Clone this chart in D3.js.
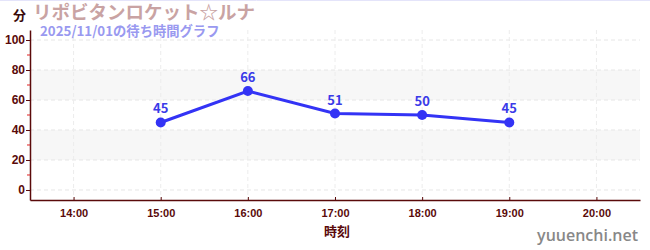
<!DOCTYPE html>
<html>
<head>
<meta charset="utf-8">
<script src="https://cdn.jsdelivr.net/npm/d3@7"></script>
<style>
  body { margin: 0; background: #fff; }
  svg { display: block; font-family: "Noto Sans CJK JP", "Noto Sans", sans-serif; }
</style>
</head>
<body>
<svg width="650" height="250"></svg>
<script>
// wait-time data for the day
var hours = [15, 16, 17, 18, 19];
var waits = [45, 66, 51, 50, 45];
var xTicks = [14, 15, 16, 17, 18, 19, 20];
var yTicks = [0, 20, 40, 60, 80, 100];
var bands = [[20, 40], [60, 80]];

var svg = d3.select('svg');
var plotLeft = 30, plotRight = 640, plotTop = 30, plotBottom = 200;

var x = d3.scaleLinear().domain([13.5, 20.5]).range([plotLeft, plotRight]);
var y = d3.scaleLinear().domain([-6.67, 106.67]).range([plotBottom, plotTop]);

var axisColor = '#5a0a0a';

// thin border on top
svg.append('line').attr('x1', 0).attr('x2', 650).attr('y1', 0.5).attr('y2', 0.5)
  .attr('stroke', '#e4e4fa');

// gray bands
svg.selectAll('rect.band')
  .data(bands)
  .enter().append('rect')
  .attr('x', plotLeft).attr('width', plotRight - plotLeft)
  .attr('y', function (d) { return y(d[1]); })
  .attr('height', function (d) { return y(d[0]) - y(d[1]); })
  .attr('fill', '#f7f7f7');

// grid
svg.selectAll('line.hg')
  .data(yTicks)
  .enter().append('line')
  .attr('x1', plotLeft).attr('x2', plotRight)
  .attr('y1', function (d) { return y(d); })
  .attr('y2', function (d) { return y(d); })
  .attr('stroke', '#e6e6e6').attr('stroke-dasharray', '4,3');

svg.selectAll('line.vg')
  .data(xTicks)
  .enter().append('line')
  .attr('y1', plotTop).attr('y2', plotBottom)
  .attr('x1', function (d) { return x(d); })
  .attr('x2', function (d) { return x(d); })
  .attr('stroke', '#ececec').attr('stroke-dasharray', '4,3');

// y axis
var yAxis = svg.append('g')
  .attr('transform', 'translate(' + plotLeft + ',0)')
  .call(d3.axisLeft(y).tickValues(yTicks).tickSize(4).tickSizeOuter(0));
// minor ticks
svg.append('g')
  .attr('transform', 'translate(' + plotLeft + ',0)')
  .selectAll('line')
  .data([10, 30, 50, 70, 90])
  .enter().append('line')
  .attr('x1', -3).attr('x2', 0)
  .attr('y1', function (d) { return y(d); })
  .attr('y2', function (d) { return y(d); })
  .attr('stroke', '#e02020');

// x axis
var xAxis = svg.append('g')
  .attr('transform', 'translate(0,' + plotBottom + ')')
  .call(d3.axisBottom(x).tickValues(xTicks).tickSize(-3).tickSizeOuter(0)
    .tickFormat(function (d) { return d + ':00'; }));

[xAxis, yAxis].forEach(function (g) {
  g.select('.domain').attr('stroke', axisColor).attr('stroke-width', 1.5);
  g.selectAll('.tick line').attr('stroke', axisColor);
  g.selectAll('.tick text')
    .attr('fill', axisColor)
    .style('font-family', '"Liberation Sans Narrow", "Liberation Sans", sans-serif')
    .style('font-weight', 'bold')
    .style('font-size', '11px');
});
yAxis.selectAll('.tick text').attr('x', -5).style('font-size', '12px');
xAxis.selectAll('.tick text').attr('y', 9);

// line
var line = d3.line()
  .x(function (d, i) { return x(hours[i]); })
  .y(function (d) { return y(d); });

svg.append('path')
  .datum(waits)
  .attr('d', line)
  .attr('fill', 'none')
  .attr('stroke', '#3333f5')
  .attr('stroke-width', 3);

svg.selectAll('circle.pt')
  .data(waits)
  .enter().append('circle')
  .attr('cx', function (d, i) { return x(hours[i]); })
  .attr('cy', function (d) { return y(d); })
  .attr('r', 5)
  .attr('fill', '#3333f5');

svg.selectAll('text.val')
  .data(waits)
  .enter().append('text')
  .attr('x', function (d, i) { return x(hours[i]); })
  .attr('y', function (d) { return y(d) - 9; })
  .attr('text-anchor', 'middle')
  .attr('fill', '#3a3ae8')
  .style('font-size', '13px')
  .style('font-weight', 'bold')
  .text(function (d) { return d; });

// titles
svg.append('text').attr('x', 13).attr('y', 20)
  .attr('fill', '#3a0a0a').style('font-size', '13px').style('font-weight', 'bold')
  .text('分');
svg.append('text').attr('x', 33).attr('y', 19)
  .attr('fill', '#c9a3a3').style('font-size', '18.5px').style('font-weight', 'bold')
  .text('リポビタンロケット☆ルナ');
svg.append('text').attr('x', 40).attr('y', 36)
  .attr('fill', '#9999f0').style('font-size', '13.3px').style('font-weight', 'bold')
  .text('2025/11/01の待ち時間グラフ');

svg.append('text').attr('x', 337).attr('y', 236)
  .attr('text-anchor', 'middle')
  .attr('fill', axisColor).style('font-size', '13px').style('font-weight', 'bold')
  .text('時刻');

svg.append('text').attr('x', 638).attr('y', 241)
  .attr('text-anchor', 'end')
  .attr('fill', '#888').style('font-size', '16px')
  .style('font-family', '"Open Sans", sans-serif').style('font-weight', '600')
  .text('yuuenchi.net');
</script>
</body>
</html>
